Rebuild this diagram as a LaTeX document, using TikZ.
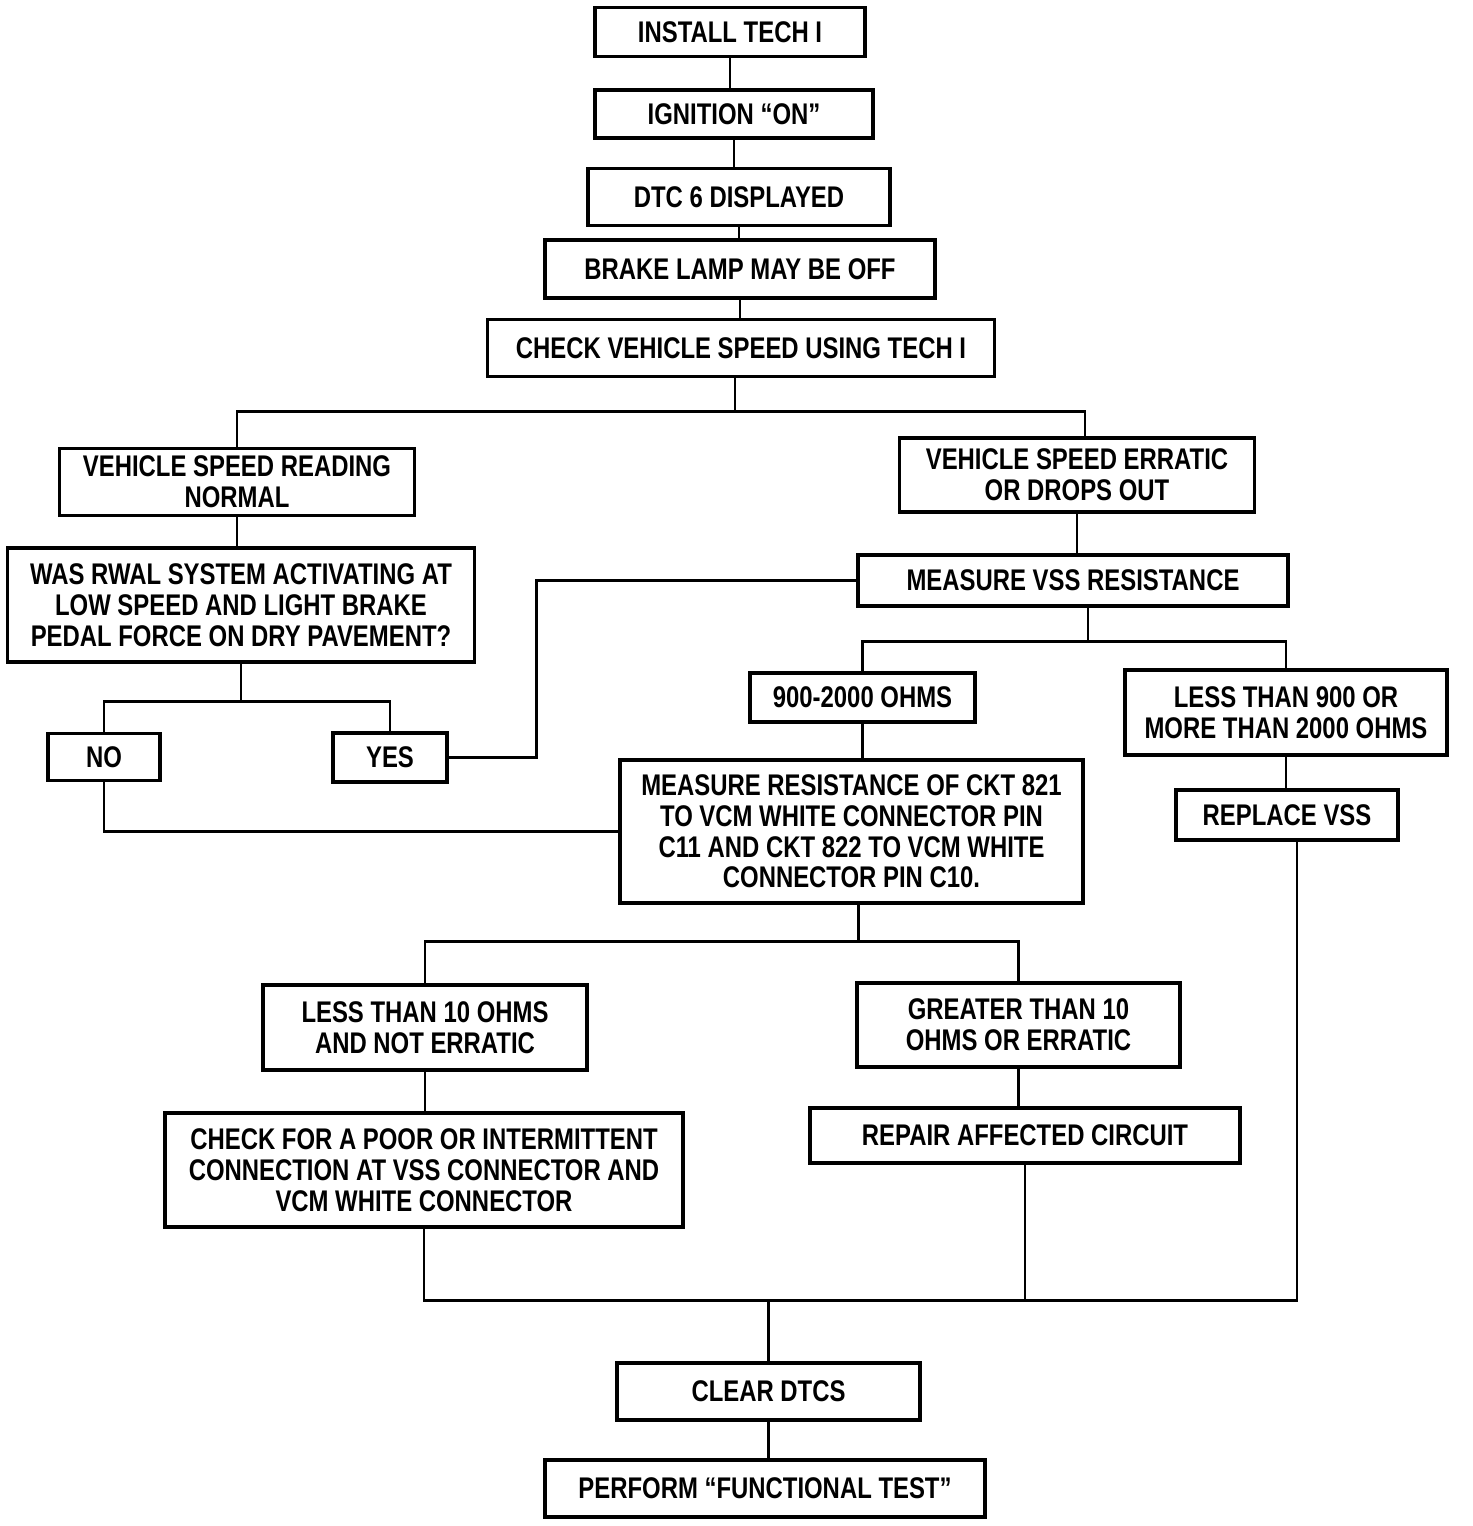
\documentclass[tikz,border=0pt]{standalone}
\usepackage{fontspec}
\setmainfont{Liberation Sans}[FakeStretch=0.8]
\usetikzlibrary{positioning}

\begin{document}
\begin{tikzpicture}[box/.style={draw, line width=2pt, inner sep=0pt, align=center, font=\fontsize{17}{17.5}\selectfont\bfseries}, line width=1.6pt]
\useasboundingbox (0,0) rectangle (29.44,-30.52);
% top chain
\node[box, minimum width=5.40cm, minimum height=0.98cm] (inst) at (14.60,-0.64) {INSTALL TECH I};
\node[box, minimum width=5.56cm, minimum height=0.96cm] (ign) at (14.68,-2.28) {IGNITION ``ON''};
\node[box, minimum width=6.04cm, minimum height=1.14cm] (dtc) at (14.78,-3.94) {DTC 6 DISPLAYED};
\node[box, minimum width=7.80cm, minimum height=1.16cm] (lamp) at (14.80,-5.38) {BRAKE LAMP MAY BE OFF};
\node[box, minimum width=10.14cm, minimum height=1.14cm] (check) at (14.82,-6.96) {CHECK VEHICLE SPEED USING TECH I};
% speed reading
\node[box, minimum width=7.10cm, minimum height=1.34cm] (normal) at (4.74,-9.64) {VEHICLE SPEED READING\\NORMAL};
\node[box, minimum width=7.10cm, minimum height=1.48cm] (erratic) at (21.54,-9.50) {VEHICLE SPEED ERRATIC\\OR DROPS OUT};
\node[box, minimum width=9.34cm, minimum height=2.28cm] (rwal) at (4.82,-12.10) {WAS RWAL SYSTEM ACTIVATING AT\\LOW SPEED AND LIGHT BRAKE\\PEDAL FORCE ON DRY PAVEMENT?};
\node[box, minimum width=8.60cm, minimum height=1.02cm] (vss) at (21.46,-11.61) {MEASURE VSS RESISTANCE};
\node[box, minimum width=2.24cm, minimum height=0.94cm] (no) at (2.08,-15.14) {NO};
\node[box, minimum width=2.28cm, minimum height=0.98cm] (yes) at (7.80,-15.15) {YES};
% vss resistance
\node[box, minimum width=4.50cm, minimum height=0.98cm] (ohm) at (17.25,-13.95) {900-2000 OHMS};
\node[box, minimum width=6.44cm, minimum height=1.70cm] (outr) at (25.72,-14.25) {LESS THAN 900 OR\\MORE THAN 2000 OHMS};
\node[box, minimum width=9.26cm, minimum height=2.86cm] (ckt) at (17.03,-16.63) {MEASURE RESISTANCE OF CKT 821\\TO VCM WHITE CONNECTOR PIN\\C11 AND CKT 822 TO VCM WHITE\\CONNECTOR PIN C10.};
\node[box, minimum width=4.44cm, minimum height=1.00cm] (repl) at (25.74,-16.30) {REPLACE VSS};
% circuit resistance
\node[box, minimum width=6.48cm, minimum height=1.70cm] (lt) at (8.50,-20.55) {LESS THAN 10 OHMS\\AND NOT ERRATIC};
\node[box, minimum width=6.46cm, minimum height=1.68cm] (gt) at (20.37,-20.50) {GREATER THAN 10\\OHMS OR ERRATIC};
\node[box, minimum width=10.36cm, minimum height=2.28cm] (poor) at (8.48,-23.40) {CHECK FOR A POOR OR INTERMITTENT\\CONNECTION AT VSS CONNECTOR AND\\VCM WHITE CONNECTOR};
\node[box, minimum width=8.60cm, minimum height=1.10cm] (repair) at (20.50,-22.71) {REPAIR AFFECTED CIRCUIT};
% end
\node[box, minimum width=6.06cm, minimum height=1.14cm] (clear) at (15.37,-27.83) {CLEAR DTCS};
\node[box, minimum width=8.80cm, minimum height=1.14cm] (perf) at (15.30,-29.77) {PERFORM ``FUNCTIONAL TEST''};
% connectors
\draw (inst.south) -- (inst.south |- ign.north);
\draw (ign.south) -- (ign.south |- dtc.north);
\draw (dtc.south) -- (dtc.south |- lamp.north);
\draw (lamp.south) -- (lamp.south |- check.north);
\draw ([xshift=-0.12cm]check.south) -- ++(0,-0.66) coordinate (j1);
\draw (normal.north) |- (j1) -| ([xshift=0.16cm]erratic.north);
\draw (normal.south) -- (normal.south |- rwal.north);
\draw (erratic.south) -- (erratic.south |- vss.north);
\draw (rwal.south) -- ++(0,-0.76) coordinate (j2);
\draw (no.north) |- (j2) -| (yes.north);
\draw (yes.east) -- ++(1.76,0) |- (vss.west);
\draw (no.south) |- (ckt.west);
\draw ([xshift=0.3cm]vss.south) -- ++(0,-0.68) coordinate (j3);
\draw (ohm.north) |- (j3) -| (outr.north);
\draw (ohm.south) -- (ohm.south |- ckt.north);
\draw (outr.south) -- (outr.south |- repl.north);
\draw ([xshift=0.14cm]ckt.south) -- ++(0,-0.74) coordinate (j4);
\draw (lt.north) |- (j4) -| (gt.north);
\draw (lt.south) -- (lt.south |- poor.north);
\draw (gt.south) -- (gt.south |- repair.north);
\draw (clear.north) -- ++(0,1.22) coordinate (j5);
\draw (poor.south) |- (j5) -| ([xshift=0.2cm]repl.south);
\draw (repair.south) -- (repair.south |- j5);
\draw (clear.south) -- (clear.south |- perf.north);
\end{tikzpicture}
\end{document}
